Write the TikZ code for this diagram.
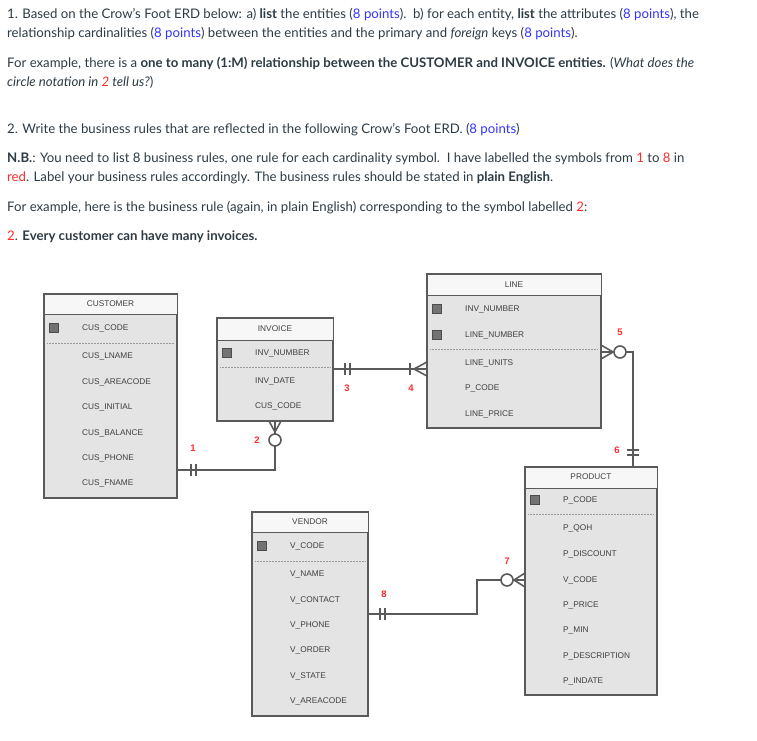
\documentclass[tikz,border=0pt]{standalone}
\usepackage{fontspec}
\setmainfont{Lato}
\newfontfamily\tablefont{Liberation Sans}
\usetikzlibrary{positioning}
\definecolor{txt}{HTML}{2D3B45}
\definecolor{pts}{HTML}{3333FF}
\definecolor{lbl}{HTML}{FF2A2A}
\definecolor{rim}{HTML}{5A5A5A}
\definecolor{bodyfill}{HTML}{E4E4E4}
\definecolor{headfill}{HTML}{F7F7F7}
\begin{document}
\begin{tikzpicture}[x=1pt,y=-1pt]
    \tikzstyle{para}=[anchor=west, inner sep=0pt, text=txt, font=\fontsize{13.2}{15}\selectfont]
    \tikzstyle{body}=[draw=rim, line width=1.4pt, fill=bodyfill]
    \tikzstyle{head}=[draw=rim, line width=0.8pt, fill=headfill]
    \tikzstyle{attr}=[anchor=west, inner sep=0pt, text=black!75, font=\tablefont\fontsize{8.3}{9}\selectfont]
    \tikzstyle{title}=[inner sep=0pt, text=black!75, font=\tablefont\fontsize{8.3}{9}\selectfont]
    \tikzstyle{pk}=[draw=black!70, fill=black!55, minimum size=9pt, inner sep=0pt]
    \tikzstyle{sep}=[black!40, densely dotted, line width=0.5pt]
    \tikzstyle{rel}=[rim, line width=1.6pt]
    \tikzstyle{num}=[inner sep=0pt, text=lbl, font=\tablefont\bfseries\fontsize{9.5}{10}\selectfont]

    \useasboundingbox (0,0) rectangle (757,740);

    % question text
    \node[para] (q1a) at (7,15) {1. Based on the Crow's Foot ERD below: a) \textbf{list} the entities (\textcolor{pts}{8 points}).\ \ b) for each entity, \textbf{list} the attributes (\textcolor{pts}{8 points}), the};
    \node[para] (q1b) at (7,34) {relationship cardinalities (\textcolor{pts}{8 points}) between the entities and the primary and \textit{foreign} keys (\textcolor{pts}{8 points}).};
    \node[para] (q1c) at (7,63) {For example, there is a \textbf{one to many (1:M) relationship between the CUSTOMER and INVOICE entities.} (\textit{What does the}};
    \node[para] (q1d) at (7,82) {\textit{circle notation in \textcolor{lbl}{2} tell us?})};
    \node[para] (q2a) at (7,130) {2. Write the business rules that are reflected in the following Crow's Foot ERD. (\textcolor{pts}{8 points})};
    \node[para] (q2b) at (7,159) {\textbf{N.B.}: You need to list 8 business rules, one rule for each cardinality symbol.\ \ I have labelled the symbols from \textcolor{lbl}{1} to \textcolor{lbl}{8} in};
    \node[para] (q2c) at (7,178) {\textcolor{lbl}{red}. Label your business rules accordingly. The business rules should be stated in \textbf{plain English}.};
    \node[para] (q2d) at (7,208) {For example, here is the business rule (again, in plain English) corresponding to the symbol labelled \textcolor{lbl}{2}:};
    \node[para] (q2e) at (7,237) {\textcolor{lbl}{2}. \textbf{Every customer can have many invoices.}};

    % CUSTOMER
    \filldraw[body] (44,294) rectangle (177,498);
    \filldraw[head] (44,294) rectangle (177,314);
    \node[title] (cust) at (110.5,304) {CUSTOMER};
    \node[pk] (custpk) at (53.5,328) {};
    \draw[sep] (47,343) -- (174,343);
    \node[attr] (c1) at (82,328) {CUS\_CODE};
    \node[attr] (c2) at (82,356) {CUS\_LNAME};
    \node[attr] (c3) at (82,382) {CUS\_AREACODE};
    \node[attr] (c4) at (82,407) {CUS\_INITIAL};
    \node[attr] (c5) at (82,433) {CUS\_BALANCE};
    \node[attr] (c6) at (82,458) {CUS\_PHONE};
    \node[attr] (c7) at (82,483) {CUS\_FNAME};

    % INVOICE
    \filldraw[body] (217,318) rectangle (333,421);
    \filldraw[head] (217,318) rectangle (333,340);
    \node[title] (inv) at (275,329) {INVOICE};
    \node[pk] (invpk) at (226.5,353) {};
    \draw[sep] (220,367) -- (330,367);
    \node[attr] (i1) at (255,353) {INV\_NUMBER};
    \node[attr] (i2) at (255,381) {INV\_DATE};
    \node[attr] (i3) at (255,406) {CUS\_CODE};

    % LINE
    \filldraw[body] (427,274) rectangle (601,428);
    \filldraw[head] (427,274) rectangle (601,295);
    \node[title] (line) at (514,285) {LINE};
    \node[pk] (linepka) at (437,309) {};
    \node[pk] (linepkb) at (437,335) {};
    \draw[sep] (430,349) -- (598,349);
    \node[attr] (l1) at (465,309) {INV\_NUMBER};
    \node[attr] (l2) at (465,335) {LINE\_NUMBER};
    \node[attr] (l3) at (465,363) {LINE\_UNITS};
    \node[attr] (l4) at (465,388) {P\_CODE};
    \node[attr] (l5) at (465,414) {LINE\_PRICE};

    % PRODUCT
    \filldraw[body] (525,467) rectangle (657,695);
    \filldraw[head] (525,467) rectangle (657,488);
    \node[title] (prod) at (591,477) {PRODUCT};
    \node[pk] (prodpk) at (535,500) {};
    \draw[sep] (528,514) -- (654,514);
    \node[attr] (p1) at (563,500) {P\_CODE};
    \node[attr] (p2) at (563,528) {P\_QOH};
    \node[attr] (p3) at (563,554) {P\_DISCOUNT};
    \node[attr] (p4) at (563,580) {V\_CODE};
    \node[attr] (p5) at (563,605) {P\_PRICE};
    \node[attr] (p6) at (563,630) {P\_MIN};
    \node[attr] (p7) at (563,656) {P\_DESCRIPTION};
    \node[attr] (p8) at (563,681) {P\_INDATE};

    % VENDOR
    \filldraw[body] (252,512) rectangle (368,716);
    \filldraw[head] (252,512) rectangle (368,532);
    \node[title] (vend) at (310,522) {VENDOR};
    \node[pk] (vendpk) at (261.5,546) {};
    \draw[sep] (255,561) -- (365,561);
    \node[attr] (v1) at (290,546) {V\_CODE};
    \node[attr] (v2) at (290,574) {V\_NAME};
    \node[attr] (v3) at (290,600) {V\_CONTACT};
    \node[attr] (v4) at (290,625) {V\_PHONE};
    \node[attr] (v5) at (290,650) {V\_ORDER};
    \node[attr] (v6) at (290,676) {V\_STATE};
    \node[attr] (v7) at (290,701) {V\_AREACODE};

    % relationship CUSTOMER - INVOICE
    \coordinate (r1) at (177,470);
    \coordinate (r2) at (275,421);
    \draw[rel] (r1) -- (275,470) -- (275,446);
    \draw[rel] (275,440) circle (6);
    \draw[rel] (269,421) -- (275,432) -- (281,421) (r2) -- (275,434);
    \draw[rel] (191,464) -- (191,476) (196,464) -- (196,476);
    \node[num] (n1) at (193,448) {1};
    \node[num] (n2) at (257,440) {2};

    % relationship INVOICE - LINE
    \coordinate (r3) at (333,369);
    \coordinate (r4) at (427,369);
    \draw[rel] (r3) -- (r4);
    \draw[rel] (345,363) -- (345,375) (350,363) -- (350,375);
    \draw[rel] (410,363) -- (410,375);
    \draw[rel] (427,362) -- (414,369) -- (427,376);
    \node[num] (n3) at (347,388) {3};
    \node[num] (n4) at (411,388) {4};

    % relationship LINE - PRODUCT
    \coordinate (r5) at (601,352);
    \coordinate (r6) at (633,467);
    \draw[rel] (601,345) -- (613,352) -- (601,359) (r5) -- (614,352);
    \draw[rel] (620,352) circle (6);
    \draw[rel] (626,352) -- (633,352) -- (r6);
    \draw[rel] (627,450) -- (639,450) (627,455) -- (639,455);
    \node[num] (n5) at (620,332) {5};
    \node[num] (n6) at (617,450) {6};

    % relationship VENDOR - PRODUCT
    \coordinate (r8) at (368,614);
    \coordinate (r7) at (525,580);
    \draw[rel] (r8) -- (477,614) -- (477,580) -- (501,580);
    \draw[rel] (507,580) circle (6);
    \draw[rel] (525,573) -- (514,580) -- (525,587) (513,580) -- (r7);
    \draw[rel] (380,608) -- (380,620) (385,608) -- (385,620);
    \node[num] (n7) at (507,561) {7};
    \node[num] (n8) at (384,594) {8};
\end{tikzpicture}
\end{document}
